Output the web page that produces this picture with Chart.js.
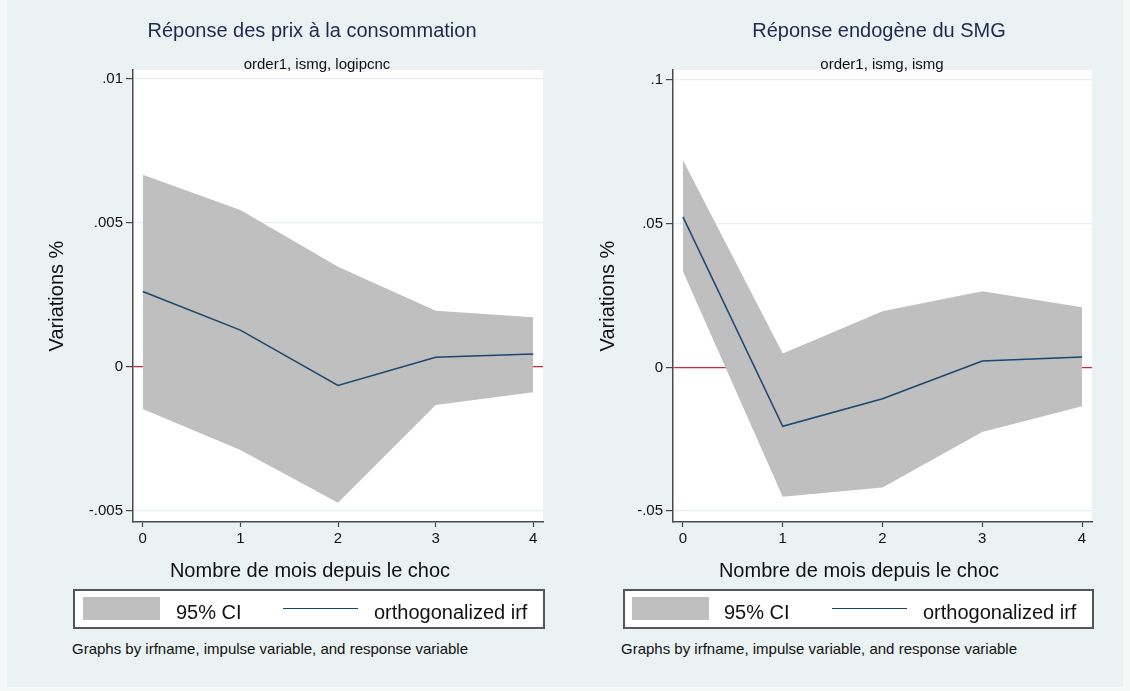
<!DOCTYPE html>
<html>
<head>
<meta charset="utf-8">
<script src="https://cdn.jsdelivr.net/npm/chart.js"></script>
<style>
  html, body { margin: 0; padding: 0; background: #f6f8f8; overflow: hidden; }
  body { width: 1130px; height: 691px; position: relative; font-family: "Liberation Sans", Arial, Helvetica, sans-serif; }
  #frame { position: absolute; left: 7px; top: 0; width: 1116px; height: 687px; background: #eaf2f3; }
  .abs { position: absolute; white-space: nowrap; z-index: 2; }
  .title { font-size: 20px; line-height: 24px; color: #1c2a4e; text-align: center; }
  .subtitle { font-size: 15px; line-height: 18px; color: #111; text-align: center; }
  .xtitle { font-size: 20px; line-height: 24px; color: #111; text-align: center; }
  .legend { border: 2px solid #555; background: #fff; box-sizing: border-box; }
  .swatch { background: #bfbfbf; }
  .lineswatch { border-top: 1.5px solid #1a476f; height: 0; }
  .legtext { font-size: 20px; line-height: 24px; color: #111; }
  .note { font-size: 15px; line-height: 18px; color: #111; }
  .panel { position: absolute; top: 0; height: 560px; z-index: 1; }
</style>
</head>
<body>
<div id="frame"></div>

<div class="panel" style="left:30px; width:540px;"><canvas id="prixChart"></canvas></div>
<div class="panel" style="left:580px; width:530px;"><canvas id="smgChart"></canvas></div>

<div class="abs title" style="left:112px; width:400px; top:18px;">Réponse des prix à la consommation</div>
<div class="abs subtitle" style="left:117px; width:400px; top:55px;">order1, ismg, logipcnc</div>
<div class="abs title" style="left:679px; width:400px; top:18px;">Réponse endogène du SMG</div>
<div class="abs subtitle" style="left:682px; width:400px; top:55px;">order1, ismg, ismg</div>

<div class="abs xtitle" style="left:110px; width:400px; top:558px;">Nombre de mois depuis le choc</div>
<div class="abs xtitle" style="left:659px; width:400px; top:558px;">Nombre de mois depuis le choc</div>

<div class="abs legend" style="left:73px; top:589px; width:472px; height:40px;"></div>
<div class="abs swatch" style="left:83px; top:597px; width:77px; height:23px;"></div>
<div class="abs legtext" style="left:176px; top:600px;">95% CI</div>
<div class="abs lineswatch" style="left:283px; top:608px; width:75px;"></div>
<div class="abs legtext" style="left:374px; top:600px;">orthogonalized irf</div>

<div class="abs legend" style="left:623px; top:589px; width:471px; height:40px;"></div>
<div class="abs swatch" style="left:632px; top:597px; width:77px; height:23px;"></div>
<div class="abs legtext" style="left:724px; top:600px;">95% CI</div>
<div class="abs lineswatch" style="left:832px; top:608px; width:75px;"></div>
<div class="abs legtext" style="left:923px; top:600px;">orthogonalized irf</div>

<div class="abs note" style="left:72px; top:640px;">Graphs by irfname, impulse variable, and response variable</div>
<div class="abs note" style="left:621px; top:640px;">Graphs by irfname, impulse variable, and response variable</div>

<script>
// horizon (months after the shock)
const steps = [0, 1, 2, 3, 4];

// consumer prices response (order1, ismg, logipcnc)
const prixIrf = [0.00262, 0.00128, -0.00064, 0.00034, 0.00045];
const prixUpper = [0.00667, 0.00545, 0.00348, 0.00195, 0.00173];
const prixLower = [-0.00146, -0.00288, -0.00471, -0.00132, -0.00088];
const prixTicks = [-0.005, 0, 0.005, 0.01];
const prixTickLabels = ['-.005', '0', '.005', '.01'];

// SMG own response (order1, ismg, ismg)
const smgIrf = [0.0524, -0.0205, -0.0109, 0.0022, 0.0036];
const smgUpper = [0.0721, 0.0048, 0.0195, 0.0265, 0.0209];
const smgLower = [0.0334, -0.0450, -0.0418, -0.0225, -0.0135];
const smgTicks = [-0.05, 0, 0.05, 0.1];
const smgTickLabels = ['-.05', '0', '.05', '.1'];

const FONT = '"Liberation Sans", Arial, Helvetica, sans-serif';
const ZERO_RED = '#e0203a';
const GRID = '#e4eef0';

// white plot region like Stata
const plotBg = {
    id: 'plotBg',
    beforeDraw(chart) {
        const { ctx, chartArea: a } = chart;
        ctx.save();
        ctx.fillStyle = '#ffffff';
        ctx.fillRect(a.left, a.top, a.right - a.left, a.bottom - a.top);
        ctx.restore();
    }
};

function pts(values) {
    return steps.map((s, i) => ({ x: s, y: values[i] }));
}

function makeIrfChart(id, irf, upper, lower, yMin, yMax, yTicks, yLabels, yWidth, titlePad, padRight) {
    const ctx = document.getElementById(id).getContext('2d');
    return new Chart(ctx, {
        type: 'line',
        data: {
            datasets: [
                {
                    label: '95% CI',
                    data: pts(upper),
                    backgroundColor: '#bfbfbf',
                    borderWidth: 0,
                    pointRadius: 0,
                    fill: '+1',
                    order: 2
                },
                {
                    label: 'lower',
                    data: pts(lower),
                    borderWidth: 0,
                    pointRadius: 0,
                    fill: false,
                    order: 3
                },
                {
                    label: 'orthogonalized irf',
                    data: pts(irf),
                    borderColor: '#1a476f',
                    borderWidth: 1.5,
                    pointRadius: 0,
                    fill: false,
                    order: 0 // on top of the band
                }
            ]
        },
        options: {
            responsive: true,
            maintainAspectRatio: false,
            animation: false,
            layout: { padding: { top: 70, left: 0, right: padRight, bottom: 8 } },
            plugins: {
                legend: { display: false },
                tooltip: { enabled: false }
            },
            scales: {
                x: {
                    type: 'linear',
                    min: -0.1,
                    max: 4.1,
                    afterBuildTicks: (scale) => { scale.ticks = steps.map(v => ({ value: v })); },
                    afterFit: (scale) => { scale.height = 30; },
                    ticks: {
                        callback: (v) => String(v),
                        color: '#111',
                        padding: 3,
                        maxRotation: 0,
                        font: { family: FONT, size: 15 }
                    },
                    grid: {
                        drawOnChartArea: false,
                        drawTicks: true,
                        tickLength: 5,
                        tickColor: '#444',
                        tickWidth: 1.2
                    },
                    border: { color: '#4a4a4a', width: 1.5 }
                },
                y: {
                    type: 'linear',
                    min: yMin,
                    max: yMax,
                    afterBuildTicks: (scale) => { scale.ticks = yTicks.map(v => ({ value: v })); },
                    afterFit: (scale) => { scale.width = yWidth; },
                    ticks: {
                        callback: (v, i) => yLabels[i],
                        color: '#111',
                        padding: 3,
                        font: { family: FONT, size: 15 }
                    },
                    grid: {
                        // zero reference line in red, other grid lines faint
                        color: yTicks.map(v => (v === 0 ? ZERO_RED : GRID)),
                        lineWidth: 1.2,
                        drawTicks: true,
                        tickLength: 7,
                        tickColor: '#444',
                        tickWidth: 1.2
                    },
                    border: { color: '#4a4a4a', width: 1.5 },
                    title: {
                        display: true,
                        text: 'Variations %',
                        color: '#111',
                        padding: { top: titlePad, bottom: 0 },
                        font: { family: FONT, size: 20 }
                    }
                }
            }
        },
        plugins: [plotBg]
    });
}

makeIrfChart('prixChart', prixIrf, prixUpper, prixLower, -0.00538, 0.01031,
    prixTicks, prixTickLabels, 103, 15, 27);
makeIrfChart('smgChart', smgIrf, smgUpper, smgLower, -0.0538, 0.1035,
    smgTicks, smgTickLabels, 93, 16, 18);
</script>
</body>
</html>
